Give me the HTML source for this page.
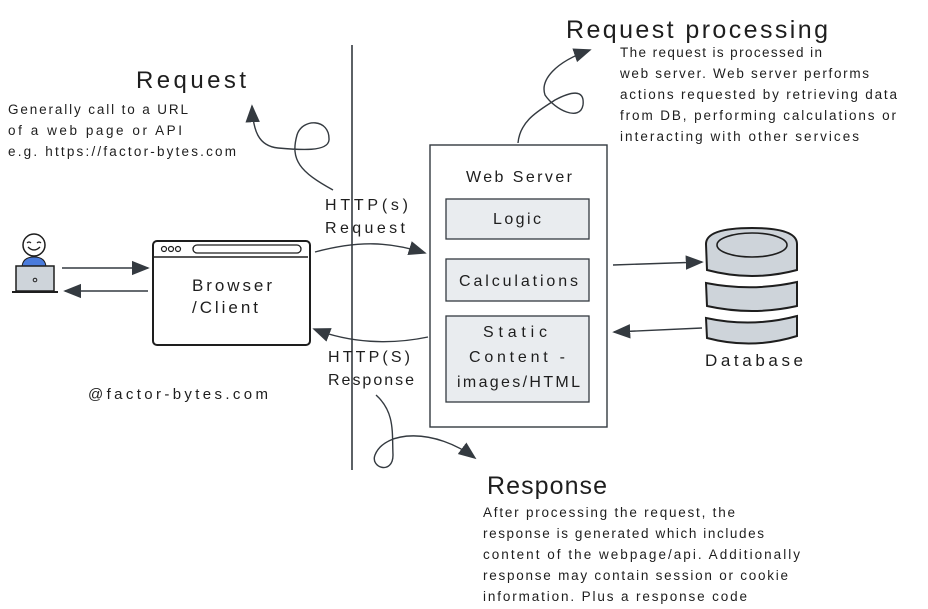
<!DOCTYPE html>
<html><head><meta charset="utf-8"><style>
html,body{margin:0;padding:0;background:#fff;}
svg{display:block;}
text{font-family:"Liberation Sans",sans-serif;fill:#1e1e1e;}
</style></head><body>
<svg width="928" height="609" viewBox="0 0 928 609" xmlns="http://www.w3.org/2000/svg">
<defs>
<marker id="ahb" viewBox="0 0 10 10" refX="9" refY="5" markerWidth="18" markerHeight="18" orient="auto" markerUnits="userSpaceOnUse">
<path d="M0,1 L10,5 L0,9 z" fill="#343a40"/></marker>
</defs>
<g fill="none" stroke="#343a40" stroke-width="1.4">
<line x1="352" y1="45" x2="352" y2="470" stroke-width="1.6"/>
<line x1="62" y1="268" x2="148" y2="268" marker-end="url(#ahb)"/>
<line x1="148" y1="291" x2="65" y2="291" marker-end="url(#ahb)"/>
<path d="M315,252 C360,240 390,242 425,253" marker-end="url(#ahb)"/>
<path d="M428,337 C390,345 350,343 314,329" marker-end="url(#ahb)"/>
<line x1="613" y1="265" x2="702" y2="262" marker-end="url(#ahb)"/>
<line x1="702" y1="328" x2="614" y2="332" marker-end="url(#ahb)"/>
<path d="M333,190 C300,172 290,160 297,135 C302,118 330,118 329,140 C328,152 300,150 278,148 C258,146 253,130 252,106" marker-end="url(#ahb)"/>
<path d="M518,143 C520,120 540,110 555,100 C570,92 585,88 583,105 C580,122 555,110 545,95 C540,80 555,62 590,50" marker-end="url(#ahb)"/>
<path d="M376,395 C395,412 392,432 393,455 C393,475 370,468 375,455 C385,430 435,428 475,458" marker-end="url(#ahb)"/>
</g>
<circle cx="34" cy="245" r="11" fill="#fff" stroke="#1e1e1e" stroke-width="1.5"/>
<path d="M28,247 Q34,253 40,247" fill="none" stroke="#1e1e1e" stroke-width="1.3"/>
<path d="M27,243 q2,-2 4,0 M37,243 q2,-2 4,0" fill="none" stroke="#1e1e1e" stroke-width="1.2"/>
<path d="M22,268 Q22,257 34,257 Q46,257 46,268 z" fill="#4a7bdc" stroke="#1e1e1e"/>
<rect x="16" y="266" width="38" height="25" fill="#ced4da" stroke="#1e1e1e" stroke-width="1.5"/>
<line x1="12" y1="292" x2="58" y2="292" stroke="#1e1e1e" stroke-width="2"/>
<circle cx="35" cy="280" r="1.8" fill="none" stroke="#1e1e1e"/>
<rect x="153" y="241" width="157" height="104" rx="4" fill="#fff" stroke="#1e1e1e" stroke-width="2"/>
<line x1="154" y1="257" x2="308" y2="257" stroke="#1e1e1e" stroke-width="1.5"/>
<circle cx="164" cy="249" r="2.5" fill="none" stroke="#1e1e1e" stroke-width="1.2"/>
<circle cx="171" cy="249" r="2.5" fill="none" stroke="#1e1e1e" stroke-width="1.2"/>
<circle cx="178" cy="249" r="2.5" fill="none" stroke="#1e1e1e" stroke-width="1.2"/>
<rect x="193" y="245" width="108" height="8" rx="4" fill="none" stroke="#1e1e1e" stroke-width="1.3"/>
<text x="192" y="291" font-size="17" textLength="80" lengthAdjust="spacing">Browser</text>
<text x="192" y="313" font-size="17" textLength="66" lengthAdjust="spacing">/Client</text>
<rect x="430" y="145" width="177" height="282" fill="#fff" stroke="#343a40" stroke-width="1.4"/>
<text x="466" y="182" font-size="16" textLength="106" lengthAdjust="spacing">Web Server</text>
<rect x="446" y="199" width="143" height="40" fill="#e9ecef" stroke="#343a40" stroke-width="1.3"/>
<text x="493" y="224" font-size="16" textLength="48" lengthAdjust="spacing">Logic</text>
<rect x="446" y="259" width="143" height="42" fill="#e9ecef" stroke="#343a40" stroke-width="1.3"/>
<text x="459" y="286" font-size="16" textLength="119" lengthAdjust="spacing">Calculations</text>
<rect x="446" y="316" width="143" height="86" fill="#e9ecef" stroke="#343a40" stroke-width="1.3"/>
<text x="483" y="337" font-size="16" textLength="64" lengthAdjust="spacing">Static</text>
<text x="469" y="362" font-size="16" textLength="96" lengthAdjust="spacing">Content -</text>
<text x="457" y="387" font-size="16" textLength="123" lengthAdjust="spacing">images/HTML</text>
<g fill="#ced4da" stroke="#1e1e1e" stroke-width="2">
<path d="M706,318 Q752,328 797,316 L797,336 Q752,350 707,338 z"/>
<path d="M706,283 Q752,292 797,282 L797,306 Q752,316 707,306 z"/>
<path d="M706,244 Q706,228 752,228 Q797,228 797,244 L797,270 Q752,282 707,270 z"/>
</g>
<ellipse cx="752" cy="245" rx="35" ry="12" fill="#ced4da" stroke="#1e1e1e" stroke-width="1.6"/>
<text x="705" y="366" font-size="17" textLength="98" lengthAdjust="spacing">Database</text>
<text x="325" y="210" font-size="16" textLength="83" lengthAdjust="spacing">HTTP(s)</text>
<text x="325" y="233" font-size="16" textLength="80" lengthAdjust="spacing">Request</text>
<text x="328" y="362" font-size="16" textLength="82" lengthAdjust="spacing">HTTP(S)</text>
<text x="328" y="385" font-size="16" textLength="86" lengthAdjust="spacing">Response</text>
<text x="88" y="399" font-size="15" textLength="180" lengthAdjust="spacing">@factor-bytes.com</text>
<text x="136" y="88" font-size="24" textLength="110" lengthAdjust="spacing">Request</text>
<g font-size="13.5">
<text x="8" y="114" textLength="180" lengthAdjust="spacing">Generally call to a URL</text>
<text x="8" y="135" textLength="174" lengthAdjust="spacing">of a web page or API</text>
<text x="8" y="156" textLength="228" lengthAdjust="spacing">e.g. https://factor-bytes.com</text>
</g>
<text x="566" y="38" font-size="25" textLength="262" lengthAdjust="spacing">Request processing</text>
<g font-size="13.5">
<text x="620" y="57" textLength="202" lengthAdjust="spacing">The request is processed in</text>
<text x="620" y="78" textLength="249" lengthAdjust="spacing">web server. Web server performs</text>
<text x="620" y="99" textLength="277" lengthAdjust="spacing">actions requested by retrieving data</text>
<text x="620" y="120" textLength="276" lengthAdjust="spacing">from DB, performing calculations or</text>
<text x="620" y="141" textLength="239" lengthAdjust="spacing">interacting with other services</text>
</g>
<text x="487" y="494" font-size="25" textLength="120" lengthAdjust="spacing">Response</text>
<g font-size="13.5">
<text x="483" y="517" textLength="252" lengthAdjust="spacing">After processing the request, the</text>
<text x="483" y="538" textLength="281" lengthAdjust="spacing">response is generated which includes</text>
<text x="483" y="559" textLength="317" lengthAdjust="spacing">content of the webpage/api. Additionally</text>
<text x="483" y="580" textLength="305" lengthAdjust="spacing">response may contain session or cookie</text>
<text x="483" y="601" textLength="264" lengthAdjust="spacing">information. Plus a response code</text>
</g>
</svg>
</body></html>
